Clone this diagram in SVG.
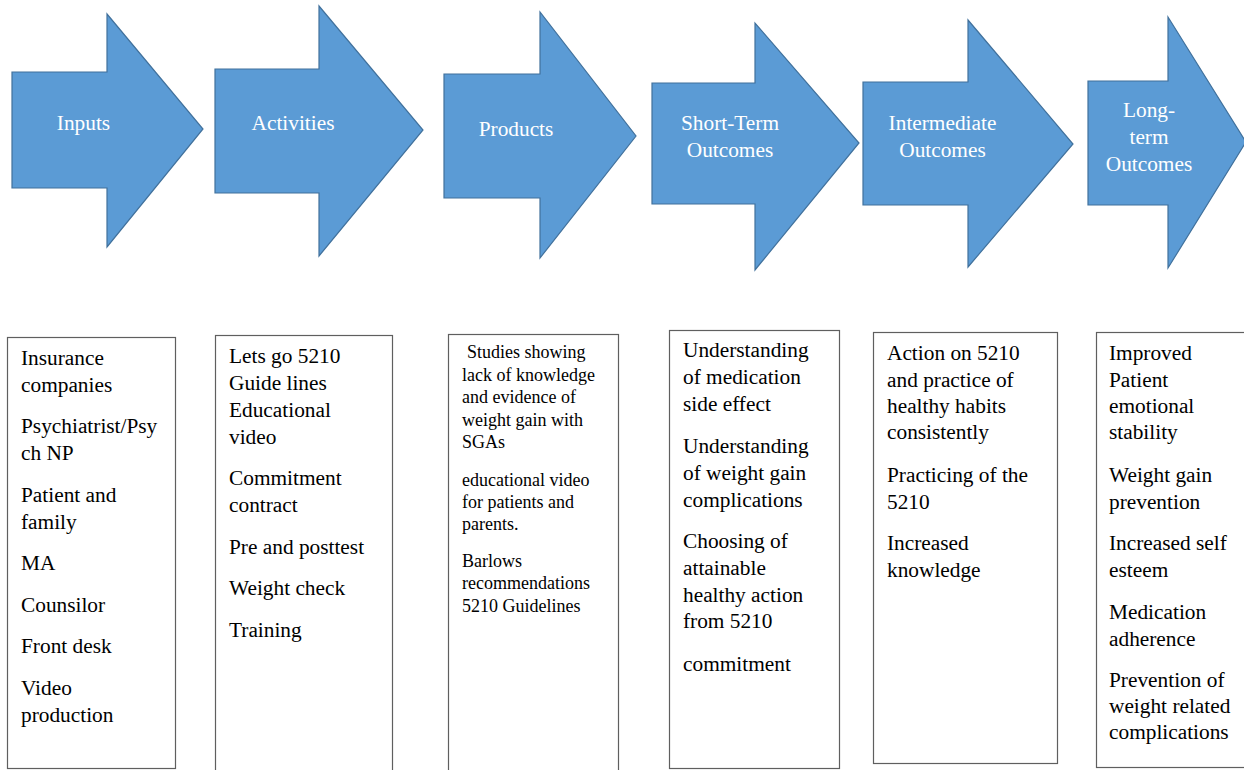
<svg xmlns="http://www.w3.org/2000/svg" width="1244" height="770" viewBox="0 0 1244 770">
<style>
.arr{fill:#5B9BD5;stroke:#41719C;stroke-width:1.2}
.lbl{font-family:"Liberation Serif","Times New Roman",serif;font-size:21.33px;fill:#ffffff;text-anchor:middle}
.box{fill:#ffffff;stroke:#5f5f5f;stroke-width:1.2}
.t{font-family:"Liberation Serif","Times New Roman",serif;font-size:21.33px;fill:#000000}
.s{font-family:"Liberation Serif","Times New Roman",serif;font-size:18px;fill:#000000}
</style>
<rect width="1244" height="770" fill="#ffffff"/>
<g id="arrow-inputs">
<polygon class="arr" points="12,72 107,72 107,14 203,129 107,247 107,188 12,188"/>
<text class="lbl" x="83.5" y="130">Inputs</text>
</g>
<g id="arrow-activities">
<polygon class="arr" points="215,69 319,69 319,6 423,130 319,256 319,193 215,193"/>
<text class="lbl" x="293" y="130">Activities</text>
</g>
<g id="arrow-products">
<polygon class="arr" points="444,74 540,74 540,12 636,136 540,258 540,198 444,198"/>
<text class="lbl" x="516" y="136">Products</text>
</g>
<g id="arrow-short">
<polygon class="arr" points="652,83 755,83 755,23 859,143 755,270 755,204 652,204"/>
<text class="lbl" x="730" y="130">Short-Term</text>
<text class="lbl" x="730" y="157">Outcomes</text>
</g>
<g id="arrow-intermediate">
<polygon class="arr" points="863,82 968,82 968,20 1073,144 968,267 968,205 863,205"/>
<text class="lbl" x="942.5" y="130">Intermediate</text>
<text class="lbl" x="942.5" y="157">Outcomes</text>
</g>
<g id="arrow-long">
<polygon class="arr" points="1088,81 1168,81 1168,17 1246,142 1168,268 1168,205 1088,205"/>
<text class="lbl" x="1149" y="117">Long-</text>
<text class="lbl" x="1149" y="143.5">term</text>
<text class="lbl" x="1149" y="171">Outcomes</text>
</g>
<g id="connectors"></g>
<g id="box-inputs">
<rect class="box" x="7.5" y="337.5" width="168" height="431"/>
<text class="t" x="21" y="365">Insurance</text>
<text class="t" x="21" y="392">companies</text>
<text class="t" x="21" y="433">Psychiatrist/Psy</text>
<text class="t" x="21" y="460">ch NP</text>
<text class="t" x="21" y="502">Patient and</text>
<text class="t" x="21" y="529">family</text>
<text class="t" x="21" y="570">MA</text>
<text class="t" x="21" y="612">Counsilor</text>
<text class="t" x="21" y="653">Front desk</text>
<text class="t" x="21" y="695">Video</text>
<text class="t" x="21" y="722">production</text>
</g>
<g id="box-activities">
<rect class="box" x="215.5" y="335.5" width="177" height="440"/>
<text class="t" x="229" y="363">Lets go 5210</text>
<text class="t" x="229" y="390">Guide lines</text>
<text class="t" x="229" y="417">Educational</text>
<text class="t" x="229" y="444">video</text>
<text class="t" x="229" y="485">Commitment</text>
<text class="t" x="229" y="512">contract</text>
<text class="t" x="229" y="554">Pre and posttest</text>
<text class="t" x="229" y="595">Weight check</text>
<text class="t" x="229" y="637">Training</text>
</g>
<g id="box-products">
<rect class="box" x="448.5" y="334.5" width="170" height="440"/>
<text class="s" x="467" y="358">Studies showing</text>
<text class="s" x="462" y="381">lack of knowledge</text>
<text class="s" x="462" y="403">and evidence of</text>
<text class="s" x="462" y="426">weight gain with</text>
<text class="s" x="462" y="448">SGAs</text>
<text class="s" x="462" y="486">educational video</text>
<text class="s" x="462" y="508">for patients and</text>
<text class="s" x="462" y="530">parents.</text>
<text class="s" x="462" y="567">Barlows</text>
<text class="s" x="462" y="589">recommendations</text>
<text class="s" x="462" y="612">5210 Guidelines</text>
</g>
<g id="box-short">
<rect class="box" x="669.5" y="330.5" width="170" height="438"/>
<text class="t" x="683" y="357">Understanding</text>
<text class="t" x="683" y="384">of medication</text>
<text class="t" x="683" y="411">side effect</text>
<text class="t" x="683" y="453">Understanding</text>
<text class="t" x="683" y="480">of weight gain</text>
<text class="t" x="683" y="507">complications</text>
<text class="t" x="683" y="548">Choosing of</text>
<text class="t" x="683" y="575">attainable</text>
<text class="t" x="683" y="602">healthy action</text>
<text class="t" x="683" y="628">from 5210</text>
<text class="t" x="683" y="671">commitment</text>
</g>
<g id="box-intermediate">
<rect class="box" x="873.5" y="332.5" width="184" height="431"/>
<text class="t" x="887" y="360">Action on 5210</text>
<text class="t" x="887" y="387">and practice of</text>
<text class="t" x="887" y="413">healthy habits</text>
<text class="t" x="887" y="439">consistently</text>
<text class="t" x="887" y="482">Practicing of the</text>
<text class="t" x="887" y="509">5210</text>
<text class="t" x="887" y="550">Increased</text>
<text class="t" x="887" y="577">knowledge</text>
</g>
<g id="box-long">
<rect class="box" x="1096.5" y="332.5" width="160" height="435"/>
<text class="t" x="1109" y="360">Improved</text>
<text class="t" x="1109" y="387">Patient</text>
<text class="t" x="1109" y="413">emotional</text>
<text class="t" x="1109" y="439">stability</text>
<text class="t" x="1109" y="482">Weight gain</text>
<text class="t" x="1109" y="509">prevention</text>
<text class="t" x="1109" y="550">Increased self</text>
<text class="t" x="1109" y="577">esteem</text>
<text class="t" x="1109" y="619">Medication</text>
<text class="t" x="1109" y="646">adherence</text>
<text class="t" x="1109" y="687">Prevention of</text>
<text class="t" x="1109" y="713">weight related</text>
<text class="t" x="1109" y="739">complications</text>
</g>
</svg>
